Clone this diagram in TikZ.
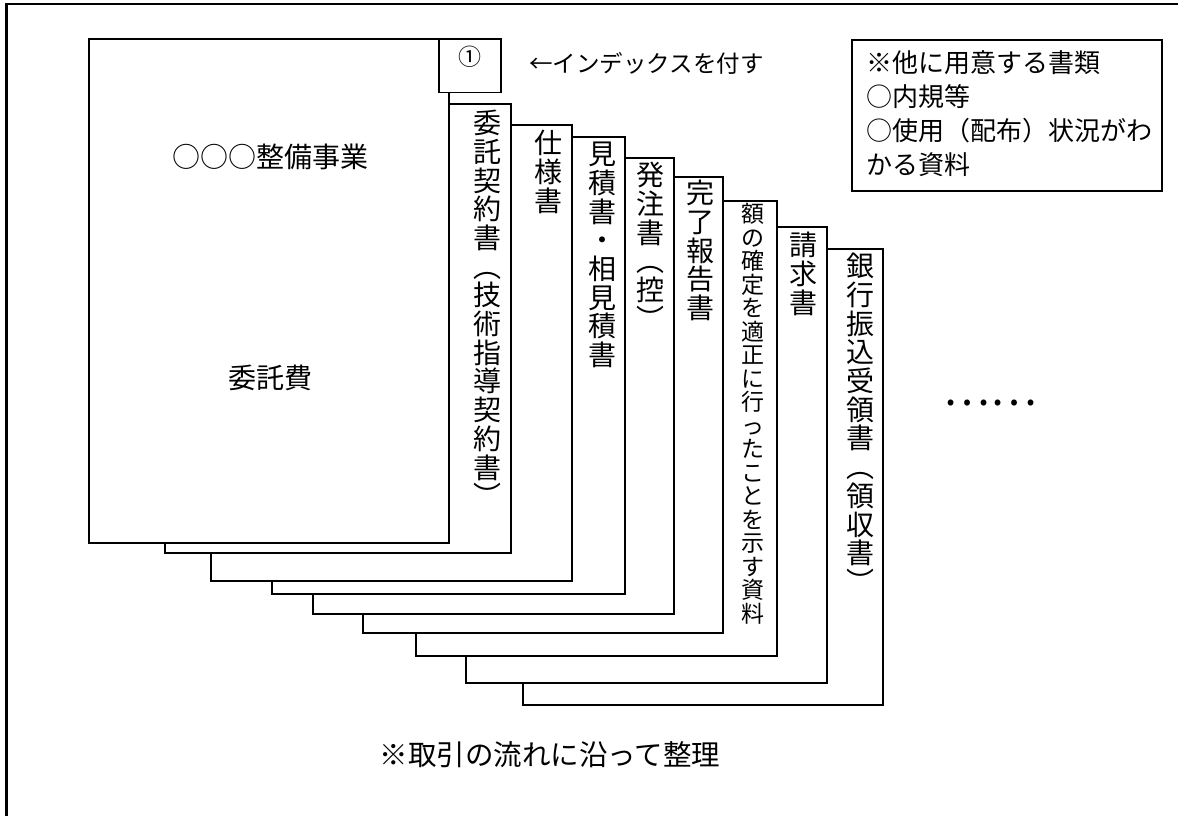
\documentclass[tikz,border=0pt]{standalone}
\usepackage{fontspec}
\setmainfont{Noto Sans CJK JP}
\begin{document}
\begin{tikzpicture}[x=1pt,y=-1pt,
  pg/.style={draw, fill=white, line width=1.8pt},
  frame/.style={draw, line width=2.3pt},
  vt/.style={anchor=north, inner sep=0pt, align=center, font=\fontsize{28}{28.7}\selectfont},
  vts/.style={anchor=north, inner sep=0pt, align=center, font=\fontsize{23}{23.5}\selectfont},
  ht/.style={inner sep=0pt, font=\fontsize{28}{34}\selectfont}]
\useasboundingbox (0,0) rectangle (1178,816);
\clip (0,0) rectangle (1178,816);
\path[frame] (6.5,4) rectangle (1200,840);
% pages, back to front
\path[pg] (523,249) rectangle (883,705);
\path[pg] (466,227) rectangle (827,683);
\path[pg] (416,201) rectangle (777,656);
\path[pg] (363,177) rectangle (723,633);
\path[pg] (313,158) rectangle (674,614);
\path[pg] (272,137) rectangle (625,594);
\path[pg] (211,125) rectangle (572,581);
\path[pg] (165,104) rectangle (511,553);
\path[pg] (89,39) rectangle (449,543);
\path[pg] (439,39) rectangle (501,92.5);
% texts
\node[ht] (title) at (270,157) {○○○整備事業};
\node[ht] (cost) at (270,378) {委託費};
\node[ht, font=\fontsize{23}{23}\selectfont] (idx) at (470,57) {①};
\node[ht, anchor=west, font=\fontsize{23.5}{23.5}\selectfont] (idxlabel) at (529,63) {←インデックスを付す};
\node[vt] (p2) at (487.5,110) {委\\託\\契\\約\\書\\︵\\技\\術\\指\\導\\契\\約\\書\\︶};
\node[vt] (p3) at (548,130) {仕\\様\\書};
\node[vt] (p4) at (602,142) {見\\積\\書\\・\\相\\見\\積\\書};
\node[vt] (p5) at (650,162) {発\\注\\書\\︵\\控\\︶};
\node[vt] (p6) at (700,180) {完\\了\\報\\告\\書};
\node[vts] (p7) at (753,203) {額\\の\\確\\定\\を\\適\\正\\に\\行\\っ\\た\\こ\\と\\を\\示\\す\\資\\料};
\node[vt] (p8) at (803,232) {請\\求\\書};
\node[vt] (p9) at (860,253) {銀\\行\\振\\込\\受\\領\\書\\︵\\領\\収\\書\\︶};
% notes box
\path[draw, line width=1.8pt] (851.7,40) rectangle (1162.3,190.7);
\node[ht, anchor=west, align=left, font=\fontsize{26}{34}\selectfont] (notes) at (866,113.3)
  {※他に用意する書類\\○内規等\\○使用（配布）状況がわ\\かる資料};
\node[ht, font=\fontsize{44}{44}\selectfont] (dots) at (990,402.7) {……};
\node[ht, font=\fontsize{28.5}{28.5}\selectfont] (flow) at (550,755) {※取引の流れに沿って整理};
\end{tikzpicture}
\end{document}
